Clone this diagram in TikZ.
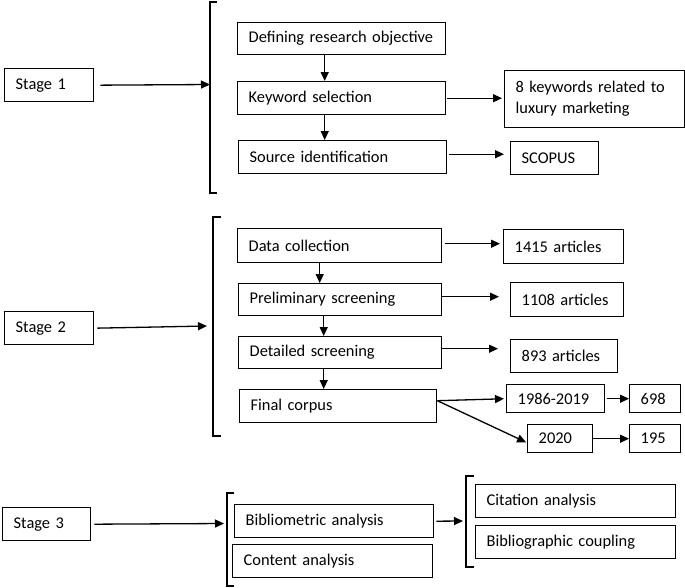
\documentclass[tikz,border=0pt]{standalone}
\usepackage{fontspec}
\setmainfont{Carlito}
\usetikzlibrary{arrows.meta}
\tikzset{
  bx/.style 2 args={draw, line width=1.4pt, anchor=north west,
    minimum width=#1pt, minimum height=#2pt, inner xsep=11pt, inner ysep=0pt,
    align=left, font=\fontsize{16.4}{21}\selectfont,
    /utils/exec={\pgfmathsetlengthmacro\bxtw{#1pt-22pt}}, text width=\bxtw},
  arr/.style={line width=1.3pt, -{Triangle[length=9pt,width=8pt]}},
  brk/.style={line width=1.3pt}
}
\begin{document}
\begin{tikzpicture}[x=1pt,y=-1pt]
\useasboundingbox (0,0) rectangle (685,587);
% ---------- Stage 1 ----------
\node[bx={89}{33}] (s1) at (4,68) {Stage 1};
\node[bx={208}{32}] (def) at (237,22) {Defining research objective};
\node[bx={208}{33}] (kw) at (237,81) {Keyword selection};
\node[bx={208}{33}] (src) at (238,140) {Source identification};
\node[bx={180}{57}] (k8) at (504,70) {8 keywords related to\\luxury marketing};
\node[bx={88}{33}] (sc) at (510,141) {SCOPUS};
\draw[brk] (217,2) -- (210,2) -- (210,193) -- (217,193);
\coordinate (b1) at (210,84.5);
\draw[arr, shorten <=6pt] (s1.east) -- (b1);
\draw[arr] ([xshift=-17pt]def.south) -- ([xshift=-17pt]def.south |- kw.north);
\draw[arr] ([xshift=-17pt]kw.south) -- ([xshift=-17pt]kw.south |- src.north);
\draw[arr, shorten <=1pt, shorten >=2pt] (kw.east) -- (kw.east -| k8.west);
\draw[arr, shorten <=2pt, shorten >=6pt] ([yshift=3pt]src.east) -- ([yshift=3pt]src.east -| sc.west);
% ---------- Stage 2 ----------
\node[bx={89}{33}] (s2) at (4,311) {Stage 2};
\node[bx={204}{34}] (dc) at (237,228) {Data collection};
\node[bx={203}{32}] (pre) at (238,283) {Preliminary screening};
\node[bx={203}{32}] (det) at (238,336) {Detailed screening};
\node[bx={197}{33}] (fc) at (239,389) {Final corpus};
\node[bx={120}{34}] (a1415) at (503,229) {1415 articles};
\node[bx={113}{34}] (a1108) at (510,282) {1108 articles};
\node[bx={107}{33}] (a893) at (510,339) {893 articles};
\node[bx={98}{28}] (y86) at (506,384) {1986-2019};
\node[bx={51}{28}] (n698) at (629,384) {698};
\node[bx={65}{28}] (y20) at (527,424) {2020};
\node[bx={51}{28}] (n195) at (629,424) {195};
\draw[brk] (221,217) -- (213,217) -- (213,436) -- (221,436);
\coordinate (b2) at (207,326);
\draw[arr, shorten <=3pt] (s2.east) -- (b2);
\draw[arr] ([xshift=-20pt]dc.south) -- ([xshift=-20pt]dc.south |- pre.north);
\draw[arr] ([xshift=-16.5pt]pre.south) -- ([xshift=-16.5pt]pre.south |- det.north);
\draw[arr] ([xshift=-16.5pt]det.south) -- ([xshift=-16.5pt]det.south |- fc.north);
\draw[arr, shorten <=3pt, shorten >=3pt] ([yshift=2pt]dc.east) -- ([yshift=2pt]dc.east -| a1415.west);
\draw[arr, shorten >=11pt] ([yshift=3pt]pre.east) -- ([yshift=3pt]pre.east -| a1108.west);
\draw[arr, shorten >=12pt] ([yshift=4pt]det.east) -- ([yshift=4pt]det.east -| a893.west);
\draw[arr, shorten >=2pt] ([yshift=5.5pt]fc.east) -- (y86.west);
\draw[arr, shorten >=1pt] ([yshift=5.5pt]fc.east) -- ([yshift=-4pt]y20.west);
\draw[arr, shorten <=2pt] (y86.east) -- (n698.west);
\draw[arr] (y20.east) -- (n195.west);
% ---------- Stage 3 ----------
\node[bx={88}{33}] (s3) at (2,507) {Stage 3};
\node[bx={199}{33}] (bib) at (234,504) {Bibliometric analysis};
\node[bx={200}{33}] (con) at (232,544) {Content analysis};
\node[bx={200}{33}] (cit) at (475,484) {Citation analysis};
\node[bx={200}{33}] (bc) at (475,525) {Bibliographic coupling};
\draw[brk] (234,493) -- (227,493) -- (227,586) -- (234,586);
\draw[brk] (474,476) -- (466,476) -- (466,567) -- (474,567);
\coordinate (b3) at (224,523.5);
\coordinate (b4) at (463,521);
\draw[arr, shorten <=3pt] (s3.east) -- (b3);
\draw[arr, shorten <=2pt] (bib.east) -- (b4);
\end{tikzpicture}
\end{document}
